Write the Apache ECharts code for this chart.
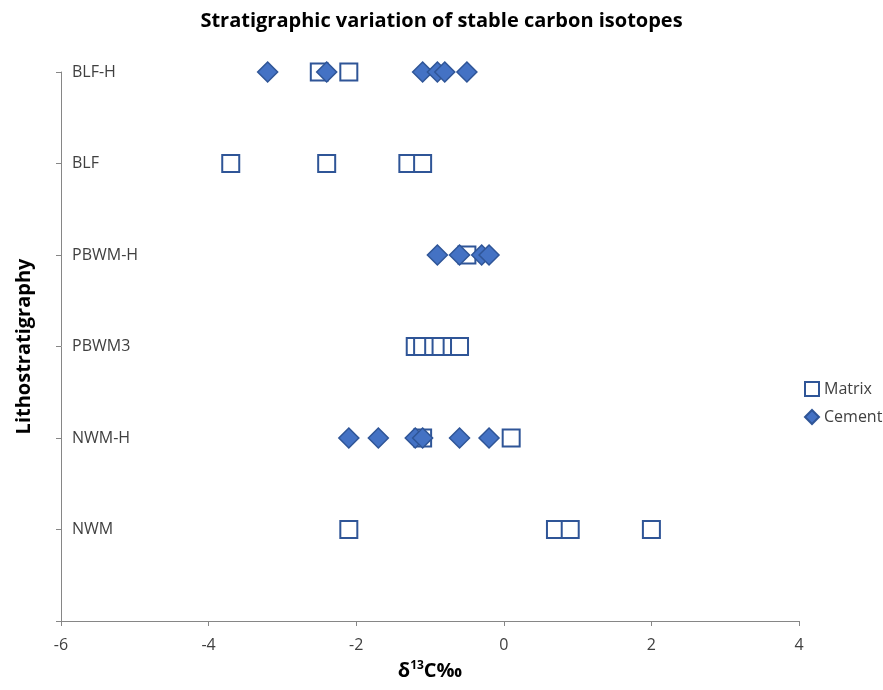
<!DOCTYPE html>
<html>
<head>
<meta charset="utf-8">
<script src="https://cdn.jsdelivr.net/npm/echarts@6/dist/echarts.min.js"></script>
<style>html,body{margin:0;padding:0;background:#fff}#c{width:883px;height:690px}</style>
</head>
<body>
<div id="c"></div>
<script>
// Category labels (bottom to top, position 1..6)
const categories = ['NWM', 'NWM-H', 'PBWM3', 'PBWM-H', 'BLF', 'BLF-H'];
// Matrix δ13C values per category
const matrixNWM = [-2.1, 0.7, 0.9, 2.0];
const matrixNWMH = [-1.1, 0.1];
const matrixPBWM3 = [-1.2, -1.1, -0.95, -0.85, -0.7, -0.6];
const matrixPBWMH = [-0.5];
const matrixBLF = [-3.7, -2.4, -1.3, -1.1];
const matrixBLFH = [-2.5, -2.1];
// Cement δ13C values per category
const cementNWMH = [-2.1, -1.7, -1.2, -1.1, -0.6, -0.2];
const cementPBWMH = [-0.9, -0.6, -0.3, -0.2];
const cementBLFH = [-3.2, -2.4, -1.1, -0.9, -0.8, -0.5];
const xTicks = [-6, -4, -2, 0, 2, 4];

const matrixGroups = [matrixNWM, matrixNWMH, matrixPBWM3, matrixPBWMH, matrixBLF, matrixBLFH];
const cementGroups = [[], cementNWMH, [], cementPBWMH, [], cementBLFH];
function toPoints(groups) {
  const out = [];
  groups.forEach((g, i) => g.forEach(v => out.push([v, i + 1])));
  return out;
}

const FONT = 'Open Sans';
const chart = echarts.init(document.getElementById('c'));
chart.setOption({
  animation: false,
  backgroundColor: '#fff',
  title: {
    text: 'Stratigraphic variation of stable carbon isotopes',
    left: 'center', top: 6,
    textStyle: { fontFamily: FONT, fontWeight: 'bold', fontSize: 20, color: '#000' }
  },
  grid: { left: 61, right: 84, top: 72, bottom: 69 },
  legend: {
    orient: 'vertical', left: 799, top: 376, itemGap: 12,
    itemWidth: 14, itemHeight: 14,
    textStyle: { fontFamily: FONT, fontSize: 16, color: '#404040' },
    data: [
      { name: 'Matrix', icon: 'rect', itemStyle: { color: '#fff', borderColor: '#2F5597', borderWidth: 2 } },
      { name: 'Cement', icon: 'diamond' }
    ]
  },
  xAxis: {
    type: 'value', min: xTicks[0], max: xTicks[xTicks.length - 1], interval: 2,
    splitLine: { show: false },
    axisLine: { onZero: false, lineStyle: { color: '#868686', width: 1 } },
    axisTick: { show: true, length: 5, lineStyle: { color: '#868686' } },
    axisLabel: { fontFamily: FONT, fontSize: 16, color: '#404040', margin: 16 },
    name: '{a|δ}{s|13}{a|C‰}', nameLocation: 'middle', nameGap: 39,
    nameTextStyle: {
      rich: {
        a: { fontFamily: FONT, fontWeight: 'bold', fontSize: 20, color: '#000', verticalAlign: 'bottom' },
        s: { fontFamily: FONT, fontWeight: 'bold', fontSize: 12, color: '#000', verticalAlign: 'top', padding: [0, 0, 9, 0] }
      }
    }
  },
  yAxis: {
    type: 'value', min: 0, max: 6, interval: 1,
    splitLine: { show: false },
    axisLine: { show: true, onZero: false, lineStyle: { color: '#868686', width: 1 } },
    axisTick: { show: true, inside: false, length: 5, lineStyle: { color: '#868686' } },
    axisLabel: {
      inside: true, margin: 11, fontFamily: FONT, fontSize: 16, color: '#404040',
      formatter: v => (v >= 1 && v <= 6) ? categories[v - 1] : ''
    },
    name: 'Lithostratigraphy', nameLocation: 'middle', nameGap: 27, nameRotate: 90,
    nameTextStyle: { fontFamily: FONT, fontWeight: 'bold', fontSize: 20, color: '#000' }
  },
  series: [
    {
      name: 'Matrix', type: 'scatter', symbol: 'rect', symbolSize: 17,
      itemStyle: { color: '#fff', borderColor: '#2F5597', borderWidth: 2, opacity: 1 },
      data: toPoints(matrixGroups), z: 2
    },
    {
      name: 'Cement', type: 'scatter', symbol: 'diamond', symbolSize: 20,
      itemStyle: { color: '#4472C4', borderColor: '#2F5597', borderWidth: 1.5, opacity: 1 },
      data: toPoints(cementGroups), z: 3
    }
  ]
});
</script>
</body>
</html>
